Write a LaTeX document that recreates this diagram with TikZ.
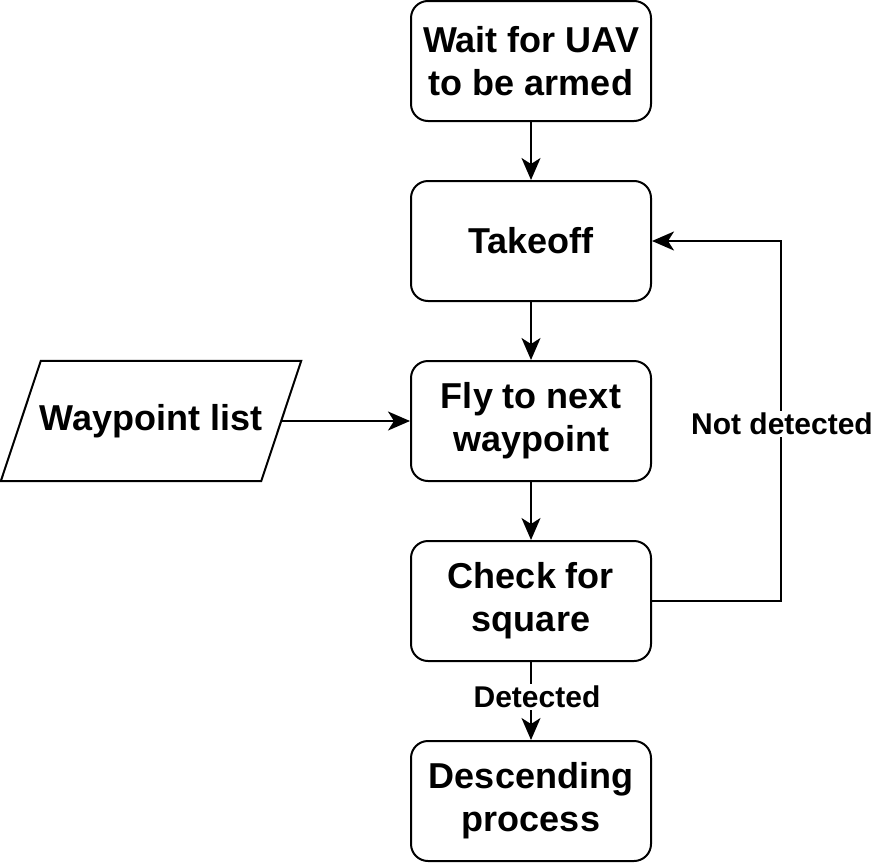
\documentclass[tikz,border=0pt]{standalone}
\usepackage{fontspec}
\setmainfont{Liberation Sans}
\usetikzlibrary{arrows.meta,calc}

\tikzset{
    stepbox/.style={draw, line width=2pt, rounded corners=17pt, minimum width=240pt, minimum height=120pt,
        align=center, font=\fontsize{36}{43}\selectfont\bfseries, inner sep=0pt},
    databox/.style={minimum width=300pt, minimum height=120pt, inner sep=0pt, font=\fontsize{36}{43}\selectfont\bfseries},
    flow/.style={line width=2pt, -{Stealth[length=22pt,width=19pt,inset=6pt]}},
    flowlabel/.style={fill=white, inner sep=2pt, font=\fontsize{30}{36}\selectfont\bfseries},
}

\begin{document}
\begin{tikzpicture}[x=1pt, y=-1pt]
    \useasboundingbox (0,0) rectangle (874,862);

    \node[stepbox] (armed) at (531,61) {Wait for UAV\\to be armed};
    \node[stepbox] (takeoff) at (531,241) {Takeoff};
    \node[stepbox] (fly) at (531,421) {Fly to next\\waypoint};
    \node[stepbox] (check) at (531,601) {Check for\\square};
    \node[stepbox] (descend) at (531,801) {Descending\\process};

    % parallelogram for the input data
    \node[databox] (waypoints) at (151,421) {Waypoint list};
    \draw[line width=2pt] ($(waypoints.north west)+(40,0)$) -- (waypoints.north east)
        -- ($(waypoints.south east)+(-40,0)$) -- (waypoints.south west) -- cycle;
    \coordinate (waypointsout) at ($(waypoints.east)+(-20,0)$);

    \draw[flow] (armed) -- (takeoff);
    \draw[flow] (takeoff) -- (fly);
    \draw[flow] (fly) -- (check);
    \draw[flow] (check) -- node[flowlabel, xshift=6pt, yshift=4pt] {Detected} (descend);
    \draw[flow] (waypointsout) -- (fly);

    \coordinate (loopbot) at (781,601);
    \coordinate (looptop) at (781,241);
    \draw[flow] (check.east) -- (loopbot) -- (looptop) -- (takeoff.east);
    \node[flowlabel] (missed) at (782,424) {Not detected};
\end{tikzpicture}
\end{document}
